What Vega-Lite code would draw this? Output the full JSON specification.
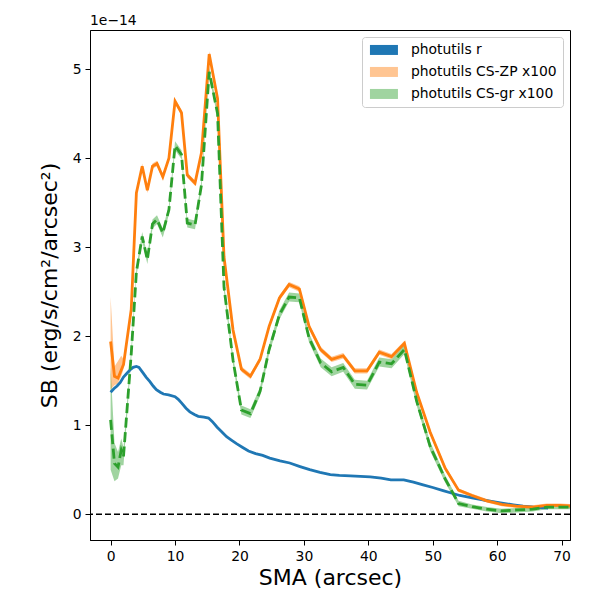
{
  "$schema": "https://vega.github.io/schema/vega-lite/v6.json",
  "width": 480,
  "height": 510,
  "autosize": "none",
  "padding": {"left": 90, "top": 30, "right": 30, "bottom": 60},
  "background": "white",
  "title": {"text": "1e\u221214", "anchor": "start", "frame": "group", "fontSize": 13.9, "fontWeight": "normal", "font": "DejaVu Sans", "color": "black", "offset": 2},
  "config": {
    "font": "DejaVu Sans",
    "view": {"stroke": "black", "strokeWidth": 1},
    "axis": {"grid": false, "domainColor": "black", "tickColor": "black", "tickSize": 5, "labelFontSize": 13.9, "labelColor": "black", "titleFontSize": 22, "titleFontWeight": "normal", "titleColor": "black", "labelPadding": 4}
  },
  "data": {
    "values": [
      {"series": "photutils r", "sma": 0, "sb": 1.37},
      {"series": "photutils r", "sma": 0.5, "sb": 1.41},
      {"series": "photutils r", "sma": 1.0, "sb": 1.44},
      {"series": "photutils r", "sma": 1.5, "sb": 1.48},
      {"series": "photutils r", "sma": 2.0, "sb": 1.54},
      {"series": "photutils r", "sma": 2.5, "sb": 1.58},
      {"series": "photutils r", "sma": 3.0, "sb": 1.62},
      {"series": "photutils r", "sma": 3.5, "sb": 1.65},
      {"series": "photutils r", "sma": 4.0, "sb": 1.66},
      {"series": "photutils r", "sma": 4.4, "sb": 1.65},
      {"series": "photutils r", "sma": 5.0, "sb": 1.59},
      {"series": "photutils r", "sma": 5.5, "sb": 1.54},
      {"series": "photutils r", "sma": 6.1, "sb": 1.49},
      {"series": "photutils r", "sma": 6.6, "sb": 1.44},
      {"series": "photutils r", "sma": 7.1, "sb": 1.40},
      {"series": "photutils r", "sma": 7.7, "sb": 1.37},
      {"series": "photutils r", "sma": 8.2, "sb": 1.35},
      {"series": "photutils r", "sma": 9.0, "sb": 1.34},
      {"series": "photutils r", "sma": 10.0, "sb": 1.32},
      {"series": "photutils r", "sma": 10.5, "sb": 1.29},
      {"series": "photutils r", "sma": 11.0, "sb": 1.25},
      {"series": "photutils r", "sma": 11.7, "sb": 1.19},
      {"series": "photutils r", "sma": 12.3, "sb": 1.15},
      {"series": "photutils r", "sma": 13.0, "sb": 1.12},
      {"series": "photutils r", "sma": 13.6, "sb": 1.10},
      {"series": "photutils r", "sma": 14.5, "sb": 1.09},
      {"series": "photutils r", "sma": 15.2, "sb": 1.08},
      {"series": "photutils r", "sma": 15.8, "sb": 1.04},
      {"series": "photutils r", "sma": 16.5, "sb": 0.98},
      {"series": "photutils r", "sma": 17.2, "sb": 0.93},
      {"series": "photutils r", "sma": 18.0, "sb": 0.87},
      {"series": "photutils r", "sma": 18.8, "sb": 0.83},
      {"series": "photutils r", "sma": 19.6, "sb": 0.79},
      {"series": "photutils r", "sma": 20.5, "sb": 0.75},
      {"series": "photutils r", "sma": 21.4, "sb": 0.71},
      {"series": "photutils r", "sma": 22.5, "sb": 0.68},
      {"series": "photutils r", "sma": 23.6, "sb": 0.66},
      {"series": "photutils r", "sma": 24.7, "sb": 0.63},
      {"series": "photutils r", "sma": 26.3, "sb": 0.60},
      {"series": "photutils r", "sma": 27.8, "sb": 0.575},
      {"series": "photutils r", "sma": 29.4, "sb": 0.535},
      {"series": "photutils r", "sma": 30.9, "sb": 0.50},
      {"series": "photutils r", "sma": 32.5, "sb": 0.47},
      {"series": "photutils r", "sma": 34.1, "sb": 0.445},
      {"series": "photutils r", "sma": 35.5, "sb": 0.435},
      {"series": "photutils r", "sma": 37.2, "sb": 0.43},
      {"series": "photutils r", "sma": 40.3, "sb": 0.42},
      {"series": "photutils r", "sma": 42.0, "sb": 0.405},
      {"series": "photutils r", "sma": 43.5, "sb": 0.385},
      {"series": "photutils r", "sma": 45.5, "sb": 0.385},
      {"series": "photutils r", "sma": 47.0, "sb": 0.36},
      {"series": "photutils r", "sma": 48.5, "sb": 0.33},
      {"series": "photutils r", "sma": 50.0, "sb": 0.30},
      {"series": "photutils r", "sma": 51.6, "sb": 0.265},
      {"series": "photutils r", "sma": 53.0, "sb": 0.235},
      {"series": "photutils r", "sma": 54.2, "sb": 0.21},
      {"series": "photutils r", "sma": 56.3, "sb": 0.18},
      {"series": "photutils r", "sma": 58.4, "sb": 0.153},
      {"series": "photutils r", "sma": 60.5, "sb": 0.128},
      {"series": "photutils r", "sma": 62.5, "sb": 0.105},
      {"series": "photutils r", "sma": 64.0, "sb": 0.09},
      {"series": "photutils r", "sma": 65.6, "sb": 0.079},
      {"series": "photutils r", "sma": 67.9, "sb": 0.067},

      {"series": "photutils CS-ZP x100", "sma": 0, "sb": 1.94, "lo": 1.40, "hi": 2.44},
      {"series": "photutils CS-ZP x100", "sma": 0.6, "sb": 1.55, "lo": 1.45, "hi": 1.66},
      {"series": "photutils CS-ZP x100", "sma": 1.15, "sb": 1.53, "lo": 1.47, "hi": 1.72},
      {"series": "photutils CS-ZP x100", "sma": 1.65, "sb": 1.62, "lo": 1.55, "hi": 1.78},
      {"series": "photutils CS-ZP x100", "sma": 2.0, "sb": 1.68, "lo": 1.63, "hi": 1.74},
      {"series": "photutils CS-ZP x100", "sma": 3.2, "sb": 2.30, "lo": 2.27, "hi": 2.33},
      {"series": "photutils CS-ZP x100", "sma": 4.0, "sb": 3.61, "lo": 3.58, "hi": 3.64},
      {"series": "photutils CS-ZP x100", "sma": 4.9, "sb": 3.91, "lo": 3.88, "hi": 3.94},
      {"series": "photutils CS-ZP x100", "sma": 5.7, "sb": 3.64, "lo": 3.61, "hi": 3.67},
      {"series": "photutils CS-ZP x100", "sma": 6.5, "sb": 3.91, "lo": 3.88, "hi": 3.94},
      {"series": "photutils CS-ZP x100", "sma": 7.2, "sb": 3.94, "lo": 3.91, "hi": 3.97},
      {"series": "photutils CS-ZP x100", "sma": 8.1, "sb": 3.79, "lo": 3.76, "hi": 3.82},
      {"series": "photutils CS-ZP x100", "sma": 9.05, "sb": 4.00, "lo": 3.97, "hi": 4.03},
      {"series": "photutils CS-ZP x100", "sma": 10.0, "sb": 4.64, "lo": 4.61, "hi": 4.67},
      {"series": "photutils CS-ZP x100", "sma": 11.0, "sb": 4.51, "lo": 4.48, "hi": 4.54},
      {"series": "photutils CS-ZP x100", "sma": 11.9, "sb": 3.81, "lo": 3.78, "hi": 3.84},
      {"series": "photutils CS-ZP x100", "sma": 13.1, "sb": 3.72, "lo": 3.69, "hi": 3.75},
      {"series": "photutils CS-ZP x100", "sma": 14.1, "sb": 4.06, "lo": 4.03, "hi": 4.09},
      {"series": "photutils CS-ZP x100", "sma": 15.3, "sb": 5.17, "lo": 5.14, "hi": 5.20},
      {"series": "photutils CS-ZP x100", "sma": 16.6, "sb": 4.67, "lo": 4.64, "hi": 4.70},
      {"series": "photutils CS-ZP x100", "sma": 17.6, "sb": 2.89, "lo": 2.86, "hi": 2.92},
      {"series": "photutils CS-ZP x100", "sma": 19.0, "sb": 2.07, "lo": 2.04, "hi": 2.10},
      {"series": "photutils CS-ZP x100", "sma": 20.3, "sb": 1.63, "lo": 1.60, "hi": 1.66},
      {"series": "photutils CS-ZP x100", "sma": 21.7, "sb": 1.55, "lo": 1.52, "hi": 1.58},
      {"series": "photutils CS-ZP x100", "sma": 23.2, "sb": 1.74, "lo": 1.71, "hi": 1.77},
      {"series": "photutils CS-ZP x100", "sma": 24.6, "sb": 2.11, "lo": 2.08, "hi": 2.14},
      {"series": "photutils CS-ZP x100", "sma": 26.2, "sb": 2.43, "lo": 2.40, "hi": 2.46},
      {"series": "photutils CS-ZP x100", "sma": 27.7, "sb": 2.58, "lo": 2.55, "hi": 2.61},
      {"series": "photutils CS-ZP x100", "sma": 29.3, "sb": 2.53, "lo": 2.50, "hi": 2.56},
      {"series": "photutils CS-ZP x100", "sma": 30.8, "sb": 2.11, "lo": 2.08, "hi": 2.14},
      {"series": "photutils CS-ZP x100", "sma": 32.6, "sb": 1.85, "lo": 1.82, "hi": 1.88},
      {"series": "photutils CS-ZP x100", "sma": 34.3, "sb": 1.74, "lo": 1.71, "hi": 1.77},
      {"series": "photutils CS-ZP x100", "sma": 36.1, "sb": 1.78, "lo": 1.75, "hi": 1.81},
      {"series": "photutils CS-ZP x100", "sma": 37.9, "sb": 1.61, "lo": 1.58, "hi": 1.64},
      {"series": "photutils CS-ZP x100", "sma": 39.8, "sb": 1.61, "lo": 1.58, "hi": 1.64},
      {"series": "photutils CS-ZP x100", "sma": 41.7, "sb": 1.82, "lo": 1.79, "hi": 1.85},
      {"series": "photutils CS-ZP x100", "sma": 43.6, "sb": 1.77, "lo": 1.74, "hi": 1.80},
      {"series": "photutils CS-ZP x100", "sma": 45.6, "sb": 1.92, "lo": 1.89, "hi": 1.95},
      {"series": "photutils CS-ZP x100", "sma": 47.5, "sb": 1.37, "lo": 1.34, "hi": 1.40},
      {"series": "photutils CS-ZP x100", "sma": 49.6, "sb": 0.92, "lo": 0.89, "hi": 0.95},
      {"series": "photutils CS-ZP x100", "sma": 51.9, "sb": 0.52, "lo": 0.49, "hi": 0.55},
      {"series": "photutils CS-ZP x100", "sma": 54.0, "sb": 0.27, "lo": 0.25, "hi": 0.29},
      {"series": "photutils CS-ZP x100", "sma": 56.1, "sb": 0.21, "lo": 0.19, "hi": 0.23},
      {"series": "photutils CS-ZP x100", "sma": 58.4, "sb": 0.15, "lo": 0.13, "hi": 0.17},
      {"series": "photutils CS-ZP x100", "sma": 60.7, "sb": 0.11, "lo": 0.09, "hi": 0.13},
      {"series": "photutils CS-ZP x100", "sma": 63.0, "sb": 0.09, "lo": 0.07, "hi": 0.11},
      {"series": "photutils CS-ZP x100", "sma": 65.5, "sb": 0.08, "lo": 0.06, "hi": 0.10},
      {"series": "photutils CS-ZP x100", "sma": 67.7, "sb": 0.10, "lo": 0.08, "hi": 0.12},
      {"series": "photutils CS-ZP x100", "sma": 69.8, "sb": 0.10, "lo": 0.08, "hi": 0.12},
      {"series": "photutils CS-ZP x100", "sma": 72.0, "sb": 0.09, "lo": 0.07, "hi": 0.11},

      {"series": "photutils CS-gr x100", "sma": 0, "sb": 1.06, "lo": 0.50, "hi": 1.65},
      {"series": "photutils CS-gr x100", "sma": 0.6, "sb": 0.57, "lo": 0.37, "hi": 0.80},
      {"series": "photutils CS-gr x100", "sma": 1.15, "sb": 0.53, "lo": 0.40, "hi": 0.70},
      {"series": "photutils CS-gr x100", "sma": 1.65, "sb": 0.72, "lo": 0.55, "hi": 0.85},
      {"series": "photutils CS-gr x100", "sma": 2.0, "sb": 0.65, "lo": 0.55, "hi": 0.75},
      {"series": "photutils CS-gr x100", "sma": 3.2, "sb": 1.80, "lo": 1.74, "hi": 1.86},
      {"series": "photutils CS-gr x100", "sma": 4.0, "sb": 2.72, "lo": 2.67, "hi": 2.77},
      {"series": "photutils CS-gr x100", "sma": 4.9, "sb": 3.12, "lo": 3.07, "hi": 3.17},
      {"series": "photutils CS-gr x100", "sma": 5.7, "sb": 2.86, "lo": 2.81, "hi": 2.91},
      {"series": "photutils CS-gr x100", "sma": 6.5, "sb": 3.26, "lo": 3.21, "hi": 3.31},
      {"series": "photutils CS-gr x100", "sma": 7.2, "sb": 3.31, "lo": 3.26, "hi": 3.36},
      {"series": "photutils CS-gr x100", "sma": 8.1, "sb": 3.16, "lo": 3.11, "hi": 3.21},
      {"series": "photutils CS-gr x100", "sma": 9.05, "sb": 3.42, "lo": 3.37, "hi": 3.47},
      {"series": "photutils CS-gr x100", "sma": 10.0, "sb": 4.14, "lo": 4.09, "hi": 4.19},
      {"series": "photutils CS-gr x100", "sma": 11.0, "sb": 4.04, "lo": 3.99, "hi": 4.09},
      {"series": "photutils CS-gr x100", "sma": 11.9, "sb": 3.27, "lo": 3.22, "hi": 3.32},
      {"series": "photutils CS-gr x100", "sma": 13.1, "sb": 3.25, "lo": 3.20, "hi": 3.30},
      {"series": "photutils CS-gr x100", "sma": 14.1, "sb": 3.70, "lo": 3.65, "hi": 3.75},
      {"series": "photutils CS-gr x100", "sma": 15.3, "sb": 4.97, "lo": 4.92, "hi": 5.02},
      {"series": "photutils CS-gr x100", "sma": 16.6, "sb": 4.50, "lo": 4.45, "hi": 4.55},
      {"series": "photutils CS-gr x100", "sma": 17.6, "sb": 2.55, "lo": 2.50, "hi": 2.60},
      {"series": "photutils CS-gr x100", "sma": 19.0, "sb": 1.73, "lo": 1.68, "hi": 1.78},
      {"series": "photutils CS-gr x100", "sma": 20.3, "sb": 1.17, "lo": 1.12, "hi": 1.22},
      {"series": "photutils CS-gr x100", "sma": 21.7, "sb": 1.13, "lo": 1.08, "hi": 1.18},
      {"series": "photutils CS-gr x100", "sma": 23.2, "sb": 1.38, "lo": 1.33, "hi": 1.43},
      {"series": "photutils CS-gr x100", "sma": 24.6, "sb": 1.85, "lo": 1.80, "hi": 1.90},
      {"series": "photutils CS-gr x100", "sma": 26.2, "sb": 2.24, "lo": 2.19, "hi": 2.29},
      {"series": "photutils CS-gr x100", "sma": 27.7, "sb": 2.44, "lo": 2.39, "hi": 2.49},
      {"series": "photutils CS-gr x100", "sma": 29.3, "sb": 2.43, "lo": 2.38, "hi": 2.48},
      {"series": "photutils CS-gr x100", "sma": 30.8, "sb": 1.98, "lo": 1.93, "hi": 2.03},
      {"series": "photutils CS-gr x100", "sma": 32.6, "sb": 1.70, "lo": 1.65, "hi": 1.75},
      {"series": "photutils CS-gr x100", "sma": 34.3, "sb": 1.60, "lo": 1.55, "hi": 1.65},
      {"series": "photutils CS-gr x100", "sma": 36.1, "sb": 1.65, "lo": 1.60, "hi": 1.70},
      {"series": "photutils CS-gr x100", "sma": 37.9, "sb": 1.46, "lo": 1.41, "hi": 1.51},
      {"series": "photutils CS-gr x100", "sma": 39.8, "sb": 1.45, "lo": 1.40, "hi": 1.50},
      {"series": "photutils CS-gr x100", "sma": 41.7, "sb": 1.71, "lo": 1.66, "hi": 1.76},
      {"series": "photutils CS-gr x100", "sma": 43.6, "sb": 1.69, "lo": 1.64, "hi": 1.74},
      {"series": "photutils CS-gr x100", "sma": 45.6, "sb": 1.85, "lo": 1.80, "hi": 1.90},
      {"series": "photutils CS-gr x100", "sma": 47.5, "sb": 1.27, "lo": 1.22, "hi": 1.32},
      {"series": "photutils CS-gr x100", "sma": 49.6, "sb": 0.76, "lo": 0.71, "hi": 0.81},
      {"series": "photutils CS-gr x100", "sma": 51.9, "sb": 0.40, "lo": 0.36, "hi": 0.44},
      {"series": "photutils CS-gr x100", "sma": 54.0, "sb": 0.12, "lo": 0.09, "hi": 0.15},
      {"series": "photutils CS-gr x100", "sma": 56.1, "sb": 0.085, "lo": 0.06, "hi": 0.11},
      {"series": "photutils CS-gr x100", "sma": 58.4, "sb": 0.056, "lo": 0.03, "hi": 0.08},
      {"series": "photutils CS-gr x100", "sma": 60.7, "sb": 0.037, "lo": 0.01, "hi": 0.06},
      {"series": "photutils CS-gr x100", "sma": 63.0, "sb": 0.048, "lo": 0.02, "hi": 0.07},
      {"series": "photutils CS-gr x100", "sma": 65.5, "sb": 0.056, "lo": 0.03, "hi": 0.08},
      {"series": "photutils CS-gr x100", "sma": 67.7, "sb": 0.079, "lo": 0.055, "hi": 0.10},
      {"series": "photutils CS-gr x100", "sma": 69.8, "sb": 0.079, "lo": 0.055, "hi": 0.10},
      {"series": "photutils CS-gr x100", "sma": 72.0, "sb": 0.079, "lo": 0.055, "hi": 0.10}
    ]
  },
  "encoding": {
    "x": {
      "field": "sma", "type": "quantitative", "title": "SMA (arcsec)",
      "scale": {"domain": [-3.2, 71.3], "nice": false, "zero": false},
      "axis": {"values": [0, 10, 20, 30, 40, 50, 60, 70], "format": "d", "titlePadding": 5}
    },
    "y": {
      "field": "sb", "type": "quantitative", "title": "SB (erg/s/cm\u00b2/arcsec\u00b2)",
      "scale": {"domain": [-0.29, 5.44], "nice": false, "zero": false},
      "axis": {"values": [0, 1, 2, 3, 4, 5], "format": "d", "titlePadding": 11}
    }
  },
  "layer": [
    {
      "transform": [{"filter": "datum.series != 'photutils r'"}],
      "mark": {"type": "area", "clip": true, "fillOpacity": 0.45},
      "encoding": {
        "y": {"field": "lo", "type": "quantitative"},
        "y2": {"field": "hi"},
        "fill": {
          "field": "series", "type": "nominal",
          "scale": {"domain": ["photutils r", "photutils CS-ZP x100", "photutils CS-gr x100"], "range": ["#1f77b4", "#ff7f0e", "#2ca02c"]},
          "legend": {
            "title": null, "orient": "top-right", "offset": 7, "padding": 6,
            "symbolType": "M-1,-1H4.6V1H-1Z", "symbolSize": 100, "symbolStrokeWidth": 0,
            "labelFontSize": 13.9, "labelColor": "black", "labelOffset": 29, "rowPadding": 7,
            "strokeColor": "#cccccc", "fillColor": "white", "cornerRadius": 3,
            "encode": {"symbols": {"update": {"fillOpacity": {"signal": "datum.value === 'photutils r' ? 1 : 0.45"}, "opacity": {"value": 1}}}}
          }
        }
      }
    },
    {
      "transform": [{"filter": "datum.series != 'photutils CS-gr x100'"}],
      "mark": {"type": "line", "clip": true, "strokeWidth": 2.8},
      "encoding": {
        "stroke": {
          "field": "series", "type": "nominal", "legend": null,
          "scale": {"domain": ["photutils r", "photutils CS-ZP x100", "photutils CS-gr x100"], "range": ["#1f77b4", "#ff7f0e", "#2ca02c"]}
        }
      }
    },
    {
      "transform": [{"filter": "datum.series == 'photutils CS-gr x100'"}],
      "mark": {"type": "line", "clip": true, "strokeWidth": 2.8, "strokeDash": [10, 4.5], "color": "#2ca02c"},
      "encoding": {}
    },
    {
      "data": {"values": [{"zero": 0}]},
      "mark": {"type": "rule", "color": "black", "strokeWidth": 1.6, "strokeDash": [6, 3]},
      "encoding": {"y": {"field": "zero", "type": "quantitative"}, "x": null}
    }
  ]
}
